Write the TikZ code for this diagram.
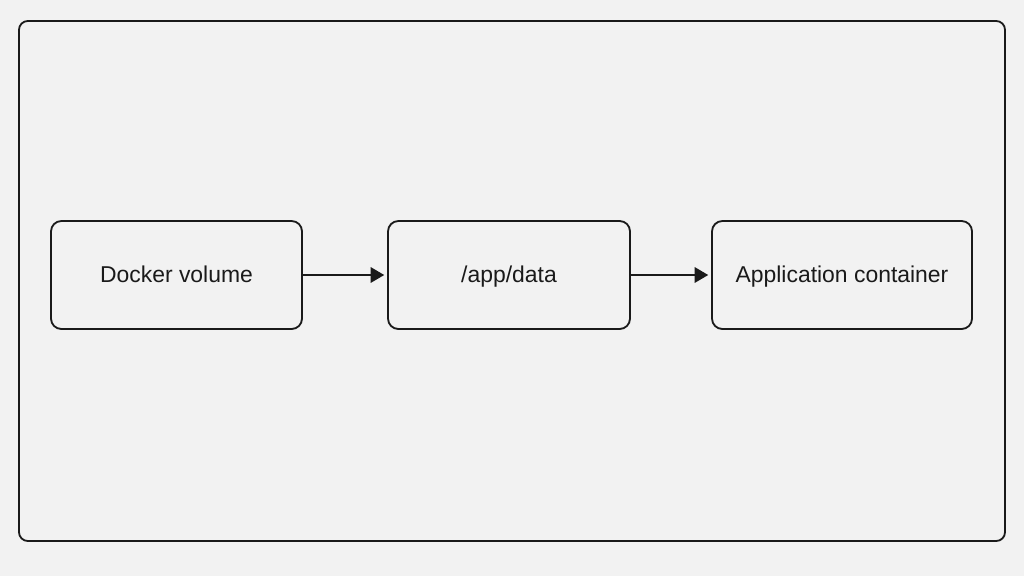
\documentclass[tikz,border=0pt]{standalone}
\usepackage{fontspec}
\setmainfont{Liberation Sans}
\usetikzlibrary{arrows.meta}
\definecolor{bg}{HTML}{F2F2F2}
\definecolor{ink}{HTML}{1A1A1A}
\begin{document}
\begin{tikzpicture}[x=0.25mm,y=-0.25mm,
  box/.style={draw=ink,line width=1.3pt,rounded corners=2.6mm,inner sep=0pt,
    font=\fontsize{16.3}{19}\selectfont,text=ink,text height=11.8pt,text depth=1.8pt},
  conn/.style={draw=ink,line width=1.8pt,-{Triangle[length=3.4mm,width=3.8mm]},shorten >=0.7mm}]
\fill[bg] (0,0) rectangle (1024,576);
\useasboundingbox (0,0) rectangle (1024,576);
\draw[ink,line width=1.3pt,rounded corners=2.2mm] (19,21) rectangle (1005,541);
\node[box,minimum width=62.75mm,minimum height=27mm] (dv) at (176.5,275) {Docker volume};
\node[box,minimum width=60.5mm,minimum height=27mm] (ad) at (509,275) {/app/data};
\node[box,minimum width=65mm,minimum height=27mm] (ac) at (842,275) {Application container};
\draw[conn] (dv) -- (ad);
\draw[conn] (ad) -- (ac);
\end{tikzpicture}
\end{document}
